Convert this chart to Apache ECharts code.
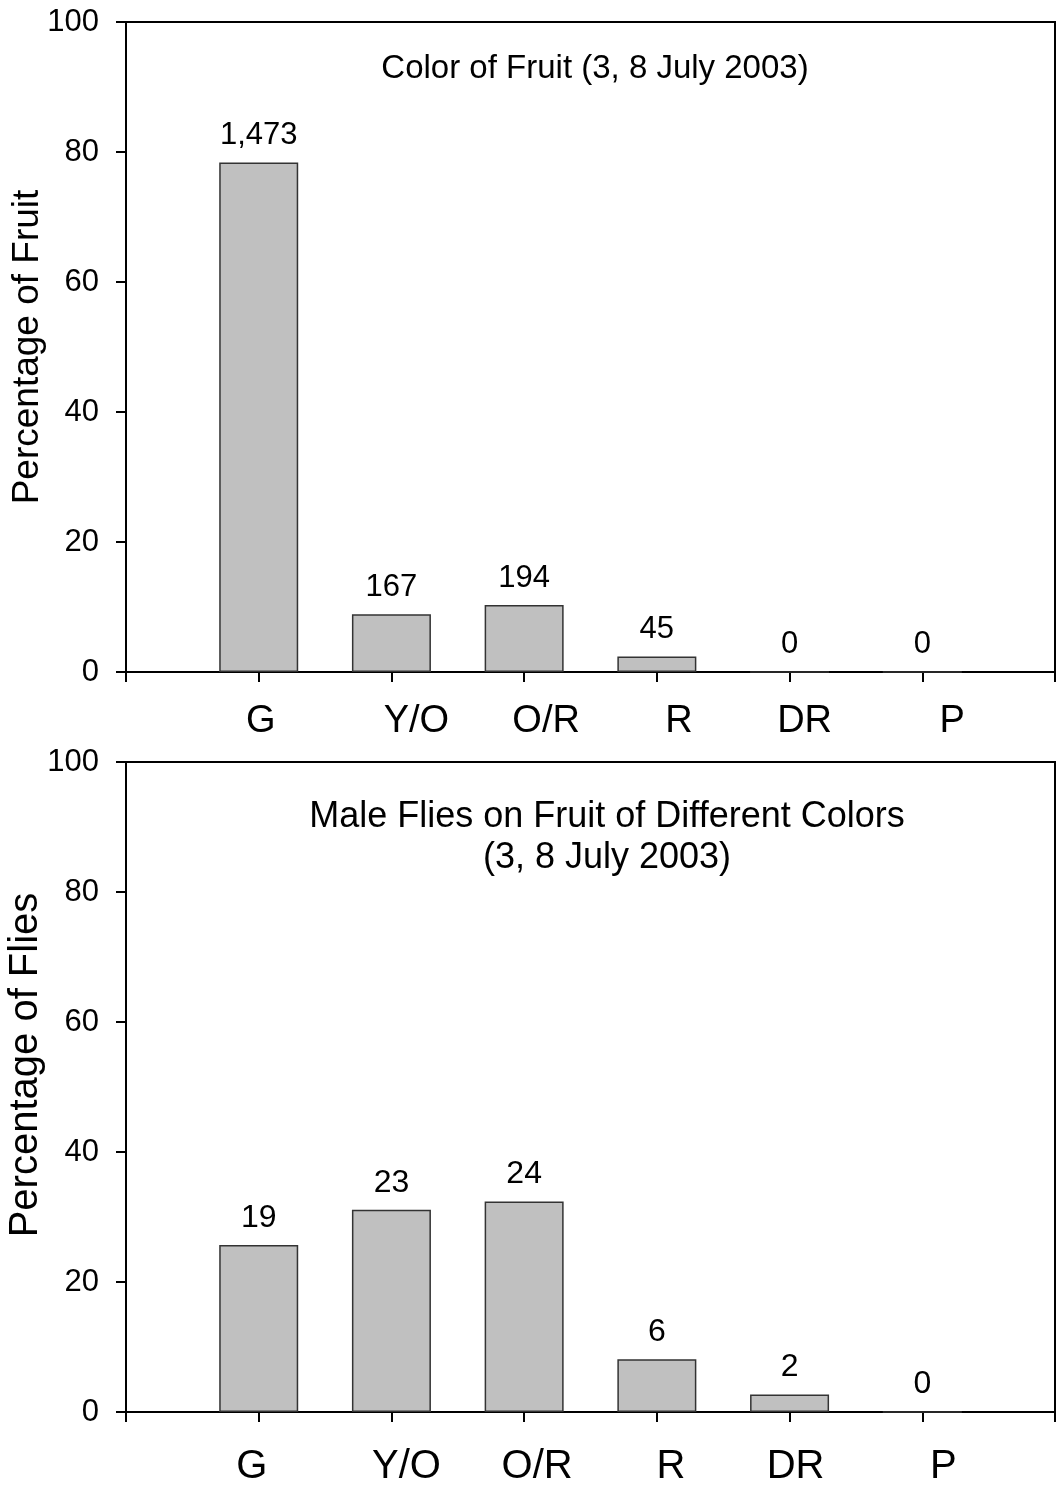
<!DOCTYPE html>
<html>
<head>
<meta charset="utf-8">
<script src="https://cdn.jsdelivr.net/npm/echarts@6/dist/echarts.min.js"></script>
<style>
  html, body { margin: 0; padding: 0; background: #fff; }
  #chart { width: 1058px; height: 1486px; }
</style>
</head>
<body>
<div id="chart"></div>
<script>
const colors = ['G', 'Y/O', 'O/R', 'R', 'DR', 'P']

// top panel: percentage of fruit, with fruit counts over the bars
const fruitPct = [78.4, 8.9, 10.3, 2.4, 0, 0]
const fruitCount = ['1,473', '167', '194', '45', '0', '0']

// bottom panel: percentage of male flies, with fly counts over the bars
const fliesPct = [25.7, 31.1, 32.4, 8.1, 2.7, 0]
const fliesCount = ['19', '23', '24', '6', '2', '0']

const yTicks = [0, 20, 40, 60, 80, 100]

// the category names are not centred on the ticks in the original, nudge them (px)
const fruitNameShift = [2, 25, 22, 22, 15, 30]
const fliesNameShift = [-7, 15, 13, 14, 6, 21]

const FONT = '"Liberation Sans", Arial, sans-serif'

const richFor = (shift, size) => {
  const rich = {}
  shift.forEach((s, i) => {
    rich['c' + (i + 1)] = {
      fontSize: size,
      fontFamily: FONT,
      color: '#000',
      padding: [0, s < 0 ? -2 * s : 0, 0, s > 0 ? 2 * s : 0]
    }
  })
  return rich
}

const xAxisFor = (gridIndex, shift, size, margin) => ({
  type: 'value',
  gridIndex: gridIndex,
  min: 0,
  max: colors.length + 1,
  interval: 1,
  splitLine: { show: false },
  axisLine: { show: true, lineStyle: { color: '#000', width: 2 } },
  axisTick: { show: true, length: 10, lineStyle: { color: '#000', width: 2 } },
  axisLabel: {
    margin: margin,
    formatter: (v) => {
      if (v >= 1 && v <= colors.length) {
        return '{c' + v + '|' + colors[v - 1] + '}'
      }
      return ''
    },
    rich: richFor(shift, size)
  }
})

const yAxisFor = (gridIndex, name, nameSize, shiftUp) => ({
  type: 'value',
  gridIndex: gridIndex,
  min: yTicks[0],
  max: yTicks[yTicks.length - 1],
  interval: yTicks[1] - yTicks[0],
  splitLine: { show: false },
  axisLine: { show: true, lineStyle: { color: '#000', width: 2 } },
  axisTick: { show: true, length: 10, lineStyle: { color: '#000', width: 2 } },
  axisLabel: { margin: 27, fontSize: 31, fontFamily: FONT, color: '#000' },
  name: name,
  nameLocation: 'middle',
  nameRotate: 90,
  nameGap: 80,
  nameMoveOverlap: false,
  nameTextStyle: {
    fontSize: nameSize,
    fontFamily: FONT,
    color: '#000',
    padding: [0, 0, 0, 2 * shiftUp]
  }
})

const barSeries = (idx, pct, counts, labelSize) => ({
  type: 'bar',
  xAxisIndex: idx,
  yAxisIndex: idx,
  barWidth: 79,
  data: pct.map((v, i) => [i + 1, v]),
  itemStyle: { color: '#c0c0c0', borderColor: '#333', borderWidth: 1.5 },
  label: {
    show: true,
    position: 'top',
    distance: 11,
    fontSize: labelSize,
    fontFamily: FONT,
    color: '#000',
    formatter: (p) => counts[p.dataIndex]
  },
  silent: true
})

const chart = echarts.init(document.getElementById('chart'))
chart.setOption({
  animation: false,
  backgroundColor: '#fff',
  grid: [
    { left: 126, top: 22, width: 929, height: 650, show: true, borderColor: '#000', borderWidth: 2, outerBoundsMode: 'none' },
    { left: 126, top: 762, width: 929, height: 650, show: true, borderColor: '#000', borderWidth: 2, outerBoundsMode: 'none' }
  ],
  xAxis: [
    xAxisFor(0, fruitNameShift, 38, 31),
    xAxisFor(1, fliesNameShift, 40, 35)
  ],
  yAxis: [
    yAxisFor(0, 'Percentage of Fruit', 37, 0),
    yAxisFor(1, 'Percentage of Flies', 40, 22)
  ],
  series: [
    barSeries(0, fruitPct, fruitCount, 31),
    barSeries(1, fliesPct, fliesCount, 32)
  ],
  graphic: [
    {
      type: 'text',
      x: 595, y: 69,
      style: {
        text: 'Color of Fruit (3, 8 July 2003)',
        font: '33px ' + FONT,
        fill: '#000',
        textAlign: 'center',
        textVerticalAlign: 'middle'
      }
    },
    {
      type: 'text',
      x: 607, y: 838,
      style: {
        text: 'Male Flies on Fruit of Different Colors\n(3, 8 July 2003)',
        font: '36px ' + FONT,
        lineHeight: 41,
        fill: '#000',
        textAlign: 'center',
        textVerticalAlign: 'middle'
      }
    }
  ]
})
</script>
</body>
</html>
